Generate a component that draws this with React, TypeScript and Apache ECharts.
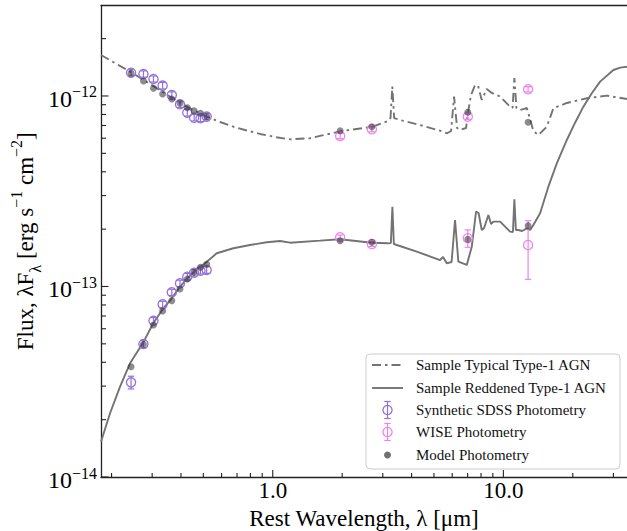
import React, { useEffect, useRef } from 'react';
import * as echarts from 'echarts';

const FONT = 'Liberation Serif';
const X_MIN = 0.18;
const X_MAX = 34.36;
const Y_MIN = 1e-14;
const Y_MAX = 2.985e-12;

// Sample Typical Type-1 AGN (dash-dot)
const typicalWave = [0.18, 0.2405, 0.3034, 0.3648, 0.4237, 0.5173, 0.591, 0.6747, 0.7715, 0.881, 1.023, 1.189, 1.451, 1.604, 1.998, 2.696, 3.162, 3.24, 3.30, 3.36, 3.565, 4.352, 5.476, 5.70, 5.932, 6.113, 6.298, 6.49, 6.89, 7.03, 7.24, 7.54, 7.77, 8.06, 8.47, 8.91, 9.68, 10.69, 10.96, 11.16, 11.39, 11.81, 12.3, 12.64, 12.9, 13.49, 14.19, 15.43, 16.48, 18.84, 23.0, 28.08, 34.36];
const typicalFlux = [1.641e-12, 1.342e-12, 1.128e-12, 0.980e-12, 0.879e-12, 0.779e-12, 0.730e-12, 0.690e-12, 0.659e-12, 0.632e-12, 0.609e-12, 0.592e-12, 0.600e-12, 0.617e-12, 0.655e-12, 0.688e-12, 0.739e-12, 0.766e-12, 1.119e-12, 0.766e-12, 0.748e-12, 0.704e-12, 0.650e-12, 0.637e-12, 0.655e-12, 0.992e-12, 0.679e-12, 0.663e-12, 0.679e-12, 0.824e-12, 1.012e-12, 1.142e-12, 1.128e-12, 0.953e-12, 1.088e-12, 1.037e-12, 0.992e-12, 0.879e-12, 0.865e-12, 1.243e-12, 0.865e-12, 0.844e-12, 0.855e-12, 0.865e-12, 0.795e-12, 0.655e-12, 0.624e-12, 0.690e-12, 0.862e-12, 0.919e-12, 0.973e-12, 1.004e-12, 0.964e-12];

// Sample Reddened Type-1 AGN (solid)
const reddenedWave = [0.18, 0.197, 0.2177, 0.2405, 0.2731, 0.3034, 0.3354, 0.3648, 0.3963, 0.4262, 0.4603, 0.5086, 0.5716, 0.6747, 0.797, 0.9418, 1.0757, 1.189, 1.604, 1.958, 2.688, 3.172, 3.252, 3.302, 3.351, 3.45, 4.212, 5.315, 5.476, 5.683, 5.963, 6.172, 6.38, 6.94, 7.295, 7.614, 7.807, 8.06, 8.248, 8.61, 8.845, 9.05, 9.68, 10.69, 11.0, 11.16, 11.33, 11.61, 12.05, 12.64, 13.06, 13.49, 14.43, 15.67, 17.05, 18.84, 20.46, 22.23, 24.17, 26.27, 30.0, 32.07, 34.36];
const reddenedFlux = [1.532e-14, 2.16e-14, 2.979e-14, 3.953e-14, 5.03e-14, 6.41e-14, 7.68e-14, 8.67e-14, 9.98e-14, 1.104e-13, 1.21e-13, 1.323e-13, 1.494e-13, 1.587e-13, 1.651e-13, 1.706e-13, 1.733e-13, 1.698e-13, 1.740e-13, 1.770e-13, 1.698e-13, 1.685e-13, 1.69e-13, 2.624e-13, 1.671e-13, 1.651e-13, 1.523e-13, 1.377e-13, 1.428e-13, 1.323e-13, 1.344e-13, 2.234e-13, 1.349e-13, 1.297e-13, 1.618e-13, 2.470e-13, 2.431e-13, 1.98e-13, 2.028e-13, 2.373e-13, 2.129e-13, 2.189e-13, 2.189e-13, 1.94e-13, 1.932e-13, 2.870e-13, 1.98e-13, 1.98e-13, 1.956e-13, 2.02e-13, 1.98e-13, 2.103e-13, 2.422e-13, 3.342e-13, 4.432e-13, 5.875e-13, 7.24e-13, 8.79e-13, 1.033e-12, 1.189e-12, 1.369e-12, 1.408e-12, 1.425e-12];

// Synthetic SDSS photometry
const sdssWave = [0.243, 0.275, 0.304, 0.333, 0.365, 0.396, 0.426, 0.456, 0.486, 0.517];
const sdssTypicalFlux = [1.325e-12, 1.305e-12, 1.228e-12, 1.133e-12, 1.012e-12, 0.905e-12, 0.817e-12, 0.769e-12, 0.764e-12, 0.779e-12];
const sdssTypicalErr = [0.05e-12, 0.05e-12, 0.045e-12, 0.045e-12, 0.04e-12, 0.035e-12, 0.033e-12, 0.03e-12, 0.03e-12, 0.03e-12];
const sdssReddenedFlux = [3.14e-14, 4.99e-14, 6.61e-14, 8.06e-14, 9.32e-14, 1.039e-13, 1.125e-13, 1.181e-13, 1.21e-13, 1.221e-13];
const sdssReddenedErr = [0.24e-14, 0.22e-14, 0.26e-14, 0.3e-14, 0.35e-14, 0.4e-14, 0.45e-14, 0.47e-14, 0.48e-14, 0.49e-14];

// WISE photometry
const wiseWave = [1.96, 2.69, 7.01, 12.8];
const wiseTypicalFlux = [0.617e-12, 0.669e-12, 0.779e-12, 1.084e-12];
const wiseTypicalErr = [0.02e-12, 0.02e-12, 0.025e-12, 0.035e-12];
const wiseReddenedFlux = [1.813e-13, 1.671e-13, 1.791e-13, 1.651e-13];
const wiseReddenedErrLow = [0.05e-13, 0.05e-13, 0.185e-13, 0.56e-13];
const wiseReddenedErrHigh = [0.05e-13, 0.05e-13, 0.19e-13, 0.564e-13];

// Model photometry
const modelWave = [0.243, 0.275, 0.304, 0.333, 0.365, 0.396, 0.426, 0.456, 0.486, 0.517, 1.96, 2.69, 7.01, 12.8];
const modelTypicalFlux = [1.316e-12, 1.199e-12, 1.098e-12, 1.024e-12, 0.964e-12, 0.916e-12, 0.868e-12, 0.837e-12, 0.811e-12, 0.779e-12, 0.657e-12, 0.690e-12, 0.821e-12, 0.728e-12];
const modelReddenedFlux = [3.79e-14, 4.97e-14, 6.28e-14, 7.44e-14, 8.42e-14, 9.70e-14, 1.095e-13, 1.187e-13, 1.261e-13, 1.307e-13, 1.740e-13, 1.706e-13, 1.770e-13, 2.086e-13];

// Ticks
const xMajorTicks = [1, 10];
const xMinorTicks = [0.2, 0.3, 0.4, 0.5, 0.6, 0.7, 0.8, 0.9, 2, 3, 4, 5, 6, 7, 8, 9, 20, 30];
const xTickLabels: Record<string, string> = { '1': '1.0', '10': '10.0' };
const yMajorTicks = [1e-14, 1e-13, 1e-12];
const yMajorExponents = ['\u221214', '\u221213', '\u221212'];
const yMinorTicks = [2e-14, 3e-14, 4e-14, 5e-14, 6e-14, 7e-14, 8e-14, 9e-14, 2e-13, 3e-13, 4e-13, 5e-13, 6e-13, 7e-13, 8e-13, 9e-13, 2e-12];

const LINE_COLOR = '#737373';
const SDSS_COLOR = '#9370DB';
const WISE_COLOR = '#EE82EE';
const MODEL_COLOR = 'rgba(45,45,45,0.68)';
const AXIS_COLOR = '#222';

const errRender = (color: string) => (params: any, api: any) => {
  const x = api.value(0);
  const y = api.value(1);
  const lo = api.value(2);
  const hi = api.value(3);
  const c = api.coord([x, y]);
  const pLo = api.coord([x, lo]);
  const pHi = api.coord([x, hi]);
  const cap = 3.2;
  const st = { stroke: color, lineWidth: 1.2, fill: 'none' };
  return {
    type: 'group',
    children: [
      { type: 'line', shape: { x1: c[0], y1: pLo[1], x2: c[0], y2: pHi[1] }, style: st },
      { type: 'line', shape: { x1: c[0] - cap, y1: pLo[1], x2: c[0] + cap, y2: pLo[1] }, style: st },
      { type: 'line', shape: { x1: c[0] - cap, y1: pHi[1], x2: c[0] + cap, y2: pHi[1] }, style: st },
      { type: 'circle', shape: { cx: c[0], cy: c[1], r: 4.6 }, style: { stroke: color, lineWidth: 1.3, fill: 'none' } },
    ],
  };
};

export default function App() {
  const ref = useRef<HTMLDivElement>(null);

  useEffect(() => {
    if (!ref.current) return;
    const chart = echarts.init(ref.current, undefined, { renderer: 'svg' });

    const typicalData = typicalWave.map((w, i) => [w, typicalFlux[i]]);
    const reddenedData = reddenedWave.map((w, i) => [w, reddenedFlux[i]]);
    const sdssData = [
      ...sdssWave.map((w, i) => [w, sdssTypicalFlux[i], sdssTypicalFlux[i] - sdssTypicalErr[i], sdssTypicalFlux[i] + sdssTypicalErr[i]]),
      ...sdssWave.map((w, i) => [w, sdssReddenedFlux[i], sdssReddenedFlux[i] - sdssReddenedErr[i], sdssReddenedFlux[i] + sdssReddenedErr[i]]),
    ];
    const wiseData = [
      ...wiseWave.map((w, i) => [w, wiseTypicalFlux[i], wiseTypicalFlux[i] - wiseTypicalErr[i], wiseTypicalFlux[i] + wiseTypicalErr[i]]),
      ...wiseWave.map((w, i) => [w, wiseReddenedFlux[i], wiseReddenedFlux[i] - wiseReddenedErrLow[i], wiseReddenedFlux[i] + wiseReddenedErrHigh[i]]),
    ];
    const modelData = [
      ...modelWave.map((w, i) => [w, modelTypicalFlux[i]]),
      ...modelWave.map((w, i) => [w, modelReddenedFlux[i]]),
    ];
    const xTickData = [
      ...xMajorTicks.map((v) => [v, Y_MIN, 7]),
      ...xMinorTicks.map((v) => [v, Y_MIN, 4]),
    ];
    const yTickData = [
      ...yMajorTicks.map((v) => [X_MIN, v, 7.5]),
      ...yMinorTicks.map((v) => [X_MIN, v, 5]),
    ];
    const yLabelData = yMajorTicks.map((v) => [X_MIN, v]);

    const isPow = (v: number) => {
      const l = Math.log10(v);
      return Math.abs(l - Math.round(l)) < 0.01;
    };

    const legendX = 366;
    const legendRows = [365, 388, 410, 432, 455];
    const hx1 = 372;
    const hx2 = 403;
    const hc = 387.5;
    const tx = 416;
    const legendText = (y: number, text: string) => ({
      type: 'text',
      style: { text, x: tx, y, fontSize: 15, fontFamily: FONT, fill: '#111', verticalAlign: 'middle', align: 'left' },
    });
    const errHandle = (y: number, color: string) => ([
      { type: 'line', shape: { x1: hc, y1: y - 8.5, x2: hc, y2: y + 8.5 }, style: { stroke: color, lineWidth: 1.2 } },
      { type: 'line', shape: { x1: hc - 3.2, y1: y - 8.5, x2: hc + 3.2, y2: y - 8.5 }, style: { stroke: color, lineWidth: 1.2 } },
      { type: 'line', shape: { x1: hc - 3.2, y1: y + 8.5, x2: hc + 3.2, y2: y + 8.5 }, style: { stroke: color, lineWidth: 1.2 } },
      { type: 'circle', shape: { cx: hc, cy: y, r: 4.6 }, style: { stroke: color, lineWidth: 1.3, fill: 'none' } },
    ]);

    chart.setOption({
      animation: false,
      backgroundColor: '#fff',
      textStyle: { fontFamily: FONT },
      grid: { left: 101, right: 0, top: 5.5, bottom: 54, containLabel: false, outerBoundsMode: 'none' },
      xAxis: [
        {
          type: 'log',
          logBase: 10,
          min: X_MIN,
          max: X_MAX,
          position: 'bottom',
          axisLine: { show: true, onZero: false, lineStyle: { color: AXIS_COLOR, width: 1.3 } },
          axisTick: { show: false },
          splitLine: { show: false },
          axisLabel: {
            show: true,
            showMinLabel: false,
            showMaxLabel: false,
            margin: 1.5,
            fontFamily: FONT,
            fontSize: 23,
            color: '#000',
            lineHeight: 24,
            formatter: (v: number) => {
              if (!isPow(v)) return '';
              const k = String(Math.round(v));
              return xTickLabels[k] ?? '';
            },
          },
          name: 'Rest Wavelength, λ [μm]',
          nameLocation: 'middle',
          nameGap: 29,
          nameMoveOverlap: false,
          nameTextStyle: { fontFamily: FONT, fontSize: 23, color: '#000', lineHeight: 24 },
        },
        {
          type: 'log',
          logBase: 10,
          min: X_MIN,
          max: X_MAX,
          position: 'top',
          axisLine: { show: true, onZero: false, lineStyle: { color: AXIS_COLOR, width: 1.3 } },
          axisTick: { show: false },
          axisLabel: { show: false },
          splitLine: { show: false },
        },
      ],
      yAxis: {
        type: 'log',
        logBase: 10,
        min: Y_MIN,
        max: Y_MAX,
        axisLine: { show: true, onZero: false, lineStyle: { color: AXIS_COLOR, width: 1.3 } },
        axisTick: { show: false },
        splitLine: { show: false },
        axisLabel: { show: false },
        name: '{m|Flux, λF}{sb|λ}{m| [erg s}{sp|\u22121}{m| cm}{sp|\u22122}{m|]}',
        nameLocation: 'middle',
        nameRotate: 90,
        nameGap: 58,
        nameMoveOverlap: false,
        nameTextStyle: {
          fontFamily: FONT,
          fontSize: 23,
          color: '#000',
          rich: {
            m: { fontFamily: FONT, fontSize: 23, lineHeight: 35, color: '#000' },
            sb: { fontFamily: FONT, fontSize: 16, lineHeight: 14, verticalAlign: 'bottom', color: '#000' },
            sp: { fontFamily: FONT, fontSize: 16, lineHeight: 8, verticalAlign: 'top', color: '#000' },
          },
        },
      },
      series: [
        {
          name: 'Sample Typical Type-1 AGN',
          type: 'line',
          data: typicalData,
          symbol: 'none',
          showSymbol: false,
          lineStyle: { color: LINE_COLOR, width: 1.9, type: [9, 4, 2.5, 4] },
          z: 2,
        },
        {
          name: 'Sample Reddened Type-1 AGN',
          type: 'line',
          data: reddenedData,
          symbol: 'none',
          showSymbol: false,
          lineStyle: { color: LINE_COLOR, width: 1.9 },
          z: 2,
        },
        {
          name: 'Synthetic SDSS Photometry',
          type: 'custom',
          coordinateSystem: 'cartesian2d',
          renderItem: errRender(SDSS_COLOR),
          data: sdssData,
          encode: { x: 0, y: [1, 2, 3] },
          z: 3,
        },
        {
          name: 'WISE Photometry',
          type: 'custom',
          coordinateSystem: 'cartesian2d',
          renderItem: errRender(WISE_COLOR),
          data: wiseData,
          encode: { x: 0, y: [1, 2, 3] },
          z: 3,
        },
        {
          name: 'Model Photometry',
          type: 'scatter',
          data: modelData,
          symbol: 'circle',
          symbolSize: 7,
          itemStyle: { color: MODEL_COLOR },
          z: 4,
        },
        {
          name: 'xticks',
          type: 'custom',
          coordinateSystem: 'cartesian2d',
          data: xTickData,
          renderItem: (params: any, api: any) => {
            const p = api.coord([api.value(0), api.value(1)]);
            const len = api.value(2);
            return { type: 'line', shape: { x1: p[0], y1: p[1], x2: p[0], y2: p[1] - len }, style: { stroke: AXIS_COLOR, lineWidth: 1.1 } };
          },
          z: 5,
          silent: true,
        },
        {
          name: 'yticks',
          type: 'custom',
          coordinateSystem: 'cartesian2d',
          data: yTickData,
          renderItem: (params: any, api: any) => {
            const p = api.coord([api.value(0), api.value(1)]);
            const len = api.value(2);
            return { type: 'line', shape: { x1: p[0], y1: p[1], x2: p[0] + len, y2: p[1] }, style: { stroke: AXIS_COLOR, lineWidth: 1.1 } };
          },
          z: 5,
          silent: true,
        },
        {
          name: 'ylabels',
          type: 'custom',
          coordinateSystem: 'cartesian2d',
          data: yLabelData,
          clip: false,
          silent: true,
          renderItem: (params: any, api: any) => {
            const p = api.coord([api.value(0), api.value(1)]);
            return {
              type: 'text',
              x: p[0] - 4,
              y: p[1] + 3,
              style: {
                text: `{m|10}{s|${yMajorExponents[params.dataIndex]}}`,
                align: 'right',
                verticalAlign: 'middle',
                rich: {
                  m: { fontFamily: FONT, fontSize: 24, lineHeight: 30, fill: '#000' },
                  s: { fontFamily: FONT, fontSize: 16, lineHeight: 8, verticalAlign: 'top', fill: '#000' },
                },
              },
            };
          },
          z: 5,
        },
      ],
      graphic: [
        {
          type: 'group',
          z: 100,
          children: [
            {
              type: 'rect',
              shape: { x: legendX, y: 354, width: 254, height: 115, r: 4 },
              style: { fill: 'rgba(255,255,255,0.85)', stroke: '#cccccc', lineWidth: 1 },
            },
            { type: 'line', shape: { x1: hx1, y1: legendRows[0], x2: hx2, y2: legendRows[0] }, style: { stroke: LINE_COLOR, lineWidth: 1.9, lineDash: [9, 4, 2.5, 4] } },
            legendText(legendRows[0], 'Sample Typical Type-1 AGN'),
            { type: 'line', shape: { x1: hx1, y1: legendRows[1], x2: hx2, y2: legendRows[1] }, style: { stroke: LINE_COLOR, lineWidth: 1.9 } },
            legendText(legendRows[1], 'Sample Reddened Type-1 AGN'),
            ...errHandle(legendRows[2], SDSS_COLOR),
            legendText(legendRows[2], 'Synthetic SDSS Photometry'),
            ...errHandle(legendRows[3], WISE_COLOR),
            legendText(legendRows[3], 'WISE Photometry'),
            { type: 'circle', shape: { cx: hc, cy: legendRows[4], r: 3.5 }, style: { fill: MODEL_COLOR } },
            legendText(legendRows[4], 'Model Photometry'),
          ],
        },
      ],
    });

    return () => chart.dispose();
  }, []);

  return (
    <div
      ref={ref}
      style={{ position: 'fixed', left: 0, top: 0, width: 627, height: 531, background: '#fff' }}
    />
  );
}
